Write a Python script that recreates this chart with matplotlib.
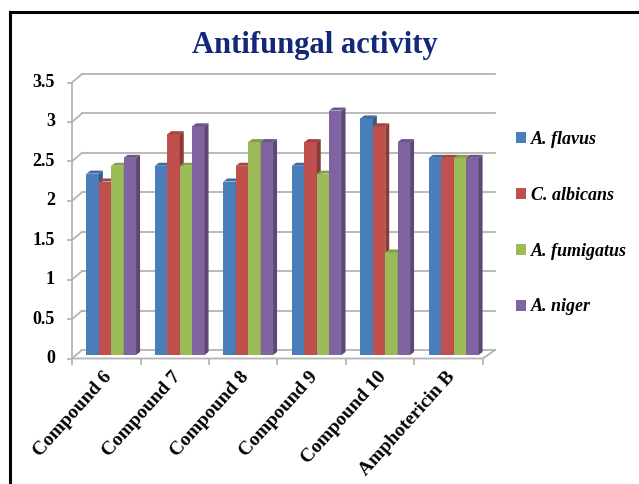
import matplotlib
matplotlib.use('Agg')
import matplotlib.pyplot as plt
from matplotlib.patches import Polygon, Patch
from matplotlib.lines import Line2D
import matplotlib.colors as mcolors

categories = ['Compound 6', 'Compound 7', 'Compound 8', 'Compound 9',
              'Compound 10', 'Amphotericin B']
series = ['A. flavus', 'C. albicans', 'A. fumigatus', 'A. niger']
a_flavus = [2.3, 2.4, 2.2, 2.4, 3.0, 2.5]
c_albicans = [2.2, 2.8, 2.4, 2.7, 2.9, 2.5]
a_fumigatus = [2.4, 2.4, 2.7, 2.3, 1.3, 2.5]
a_niger = [2.5, 2.9, 2.7, 3.1, 2.7, 2.5]
yticks = [0, 0.5, 1, 1.5, 2, 2.5, 3, 3.5]
ytick_labels = ['0', '0.5', '1', '1.5', '2', '2.5', '3', '3.5']

colors = ['#4a7ebb', '#c0504d', '#9bbb59', '#8064a2']
grid_c = '#b4b4b4'

W, H = 639, 484
fig = plt.figure(figsize=(W / 100, H / 100), dpi=100)
ax = fig.add_axes([77 / W, (H - 355) / H, 411 / W, 276 / H])
ax.set_xlim(-0.5, 5.5)
ax.set_ylim(0, 3.5)
ax.axis('off')

# pixel -> data conversion for the fake 3D offsets
PX = 6 / 411
PY = 3.5 / 276

xf0, xf1 = -0.5 - 5 * PX, 5.5 - 5 * PX      # front plane
xb0, xb1 = -0.5 + 5 * PX, 5.5 + 7 * PX      # back wall
yb = 5 * PY                                   # back wall lift
yf = -3.5 * PY                                # front plane drop

kw = dict(color=grid_c, lw=1.3, clip_on=False, zorder=1)
for v, lab in zip(yticks, ytick_labels):
    ax.plot([xb0, xb1], [v + yb, v + yb], **kw)
    ax.plot([xf0, xb0], [v + yf, v + yb], **kw)
    ax.plot([xf0 - 4 * PX, xf0], [v + yf, v + yf], **kw)
    ax.text(xf0 - 17 * PX, v + yf, lab, ha='right', va='center',
            fontsize=13, fontweight='bold', family='Liberation Serif')
ax.plot([xf0, xf0], [yf, 3.5 + yf], **kw)
ax.plot([xf0, xf1, xb1], [yf, yf, yb], **kw)
for k in range(len(categories) + 1):
    ax.plot([k - 0.5 - 5 * PX] * 2, [yf, yf - 5 * PY], **kw)

bw = 12.4 * PX
dx, dy = 4 * PX, 3 * PY
values = [a_flavus, c_albicans, a_fumigatus, a_niger]
z = 2
for i in range(len(categories)):
    for j, vals in enumerate(values):
        rect = ax.bar(i + (j - 1.5) * bw, vals[i], width=bw, color=colors[j],
                      zorder=z, clip_on=False)[0]
        x0, w, h = rect.get_x(), rect.get_width(), rect.get_height()
        rgb = mcolors.to_rgb(colors[j])
        side = tuple(c * 0.72 for c in rgb)
        top = tuple(c * 0.85 for c in rgb)
        ax.add_patch(Polygon([(x0 + w, 0), (x0 + w + dx, dy), (x0 + w + dx, h + dy),
                              (x0 + w, h)], closed=True, facecolor=side,
                             edgecolor='none', zorder=z, clip_on=False))
        ax.add_patch(Polygon([(x0, h), (x0 + dx, h + dy), (x0 + w + dx, h + dy),
                              (x0 + w, h)], closed=True, facecolor=top,
                             edgecolor='none', zorder=z, clip_on=False))
        z += 1

for i, name in enumerate(categories):
    ax.text(i - 2 * PX, -19 * PY, name, rotation=48, rotation_mode='anchor',
            ha='right', va='center', fontsize=14, fontweight='bold',
            family='Liberation Serif', clip_on=False)

fig.text(315 / W, 1 - 46 / H, 'Antifungal activity', ha='center', va='center',
         fontsize=22, fontweight='bold', color='#14287a', family='Liberation Serif')

handles = [Patch(facecolor=c, edgecolor='none') for c in colors]
fig.legend(handles, series, loc='upper left', bbox_to_anchor=(507 / W, 1 - 122 / H),
           frameon=False, handlelength=0.55, handleheight=0.55, handletextpad=0.3,
           labelspacing=2.15, borderpad=0,
           prop=dict(family='Liberation Serif', weight='bold', style='italic', size=13))

# outer frame (top and left edges)
fig.add_artist(Line2D([9.5 / W, 9.5 / W], [0, 1 - 12 / H], transform=fig.transFigure,
                      color='black', lw=2.2))
fig.add_artist(Line2D([9.5 / W, 1], [1 - 12 / H, 1 - 12 / H], transform=fig.transFigure,
                      color='black', lw=2.2))

fig.savefig('out.png', dpi=100)
